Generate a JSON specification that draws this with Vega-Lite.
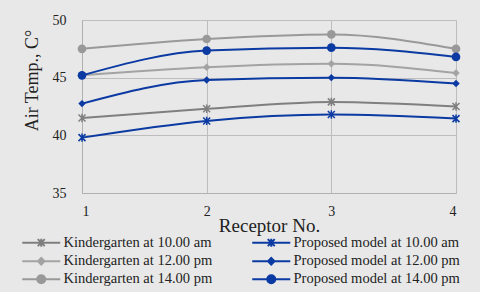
{
  "$schema": "https://vega.github.io/schema/vega-lite/v6.json",
  "width": 374,
  "height": 173,
  "autosize": {"type": "none"},
  "padding": {"left": 82, "top": 20, "right": 24, "bottom": 99},
  "background": "#e8e8e8",
  "config": {
    "font": "Liberation Serif",
    "view": {"stroke": null},
    "axis": {"labelFont": "Liberation Serif", "titleFont": "Liberation Serif", "labelColor": "#222", "titleColor": "#222", "titleFontWeight": "normal", "gridColor": "#bdbdbd", "domainColor": "#b0b0b0", "ticks": false}
  },
  "data": {"values": [
    {"receptor": 1, "series": "Kindergarten at 10.00 am", "temp": 41.5},
    {"receptor": 2, "series": "Kindergarten at 10.00 am", "temp": 42.3},
    {"receptor": 3, "series": "Kindergarten at 10.00 am", "temp": 42.9},
    {"receptor": 4, "series": "Kindergarten at 10.00 am", "temp": 42.5},
    {"receptor": 1, "series": "Proposed model at 10.00 am", "temp": 39.8},
    {"receptor": 2, "series": "Proposed model at 10.00 am", "temp": 41.25},
    {"receptor": 3, "series": "Proposed model at 10.00 am", "temp": 41.8},
    {"receptor": 4, "series": "Proposed model at 10.00 am", "temp": 41.45},
    {"receptor": 1, "series": "Kindergarten at 12.00 pm", "temp": 45.2},
    {"receptor": 2, "series": "Kindergarten at 12.00 pm", "temp": 45.9},
    {"receptor": 3, "series": "Kindergarten at 12.00 pm", "temp": 46.2},
    {"receptor": 4, "series": "Kindergarten at 12.00 pm", "temp": 45.4},
    {"receptor": 1, "series": "Proposed model at 12.00 pm", "temp": 42.75},
    {"receptor": 2, "series": "Proposed model at 12.00 pm", "temp": 44.8},
    {"receptor": 3, "series": "Proposed model at 12.00 pm", "temp": 45.0},
    {"receptor": 4, "series": "Proposed model at 12.00 pm", "temp": 44.5},
    {"receptor": 1, "series": "Kindergarten at 14.00 pm", "temp": 47.5},
    {"receptor": 2, "series": "Kindergarten at 14.00 pm", "temp": 48.35},
    {"receptor": 3, "series": "Kindergarten at 14.00 pm", "temp": 48.75},
    {"receptor": 4, "series": "Kindergarten at 14.00 pm", "temp": 47.5},
    {"receptor": 1, "series": "Proposed model at 14.00 pm", "temp": 45.2},
    {"receptor": 2, "series": "Proposed model at 14.00 pm", "temp": 47.35},
    {"receptor": 3, "series": "Proposed model at 14.00 pm", "temp": 47.6},
    {"receptor": 4, "series": "Proposed model at 14.00 pm", "temp": 46.8}
  ]},
  "encoding": {
    "x": {"field": "receptor", "type": "quantitative", "scale": {"domain": [1, 4], "nice": false}, "axis": {"values": [1, 2, 3, 4], "format": "d", "title": "Receptor No.", "labelFont": "Liberation Serif", "titleFont": "Liberation Serif", "labelFontSize": 14, "titleFontSize": 19, "labelPadding": 11, "titlePadding": -2}},
    "y": {"field": "temp", "type": "quantitative", "scale": {"domain": [35, 50], "nice": false, "zero": false}, "axis": {"values": [35, 40, 45, 50], "title": "Air Temp., C°", "labelFont": "Liberation Serif", "titleFont": "Liberation Serif", "labelFontSize": 14, "titleFontSize": 18, "labelPadding": 16, "titlePadding": 11, "titleY": 60}},
    "color": {"field": "series", "type": "nominal",
      "scale": {"domain": ["Kindergarten at 10.00 am", "Kindergarten at 12.00 pm", "Kindergarten at 14.00 pm", "Proposed model at 10.00 am", "Proposed model at 12.00 pm", "Proposed model at 14.00 pm"],
                "range": ["#7f7f7f", "#a3a3a3", "#999999", "#0b3aa3", "#0b3aa3", "#0b3aa3"]},
      "legend": {"title": null, "orient": "none", "legendX": -48, "legendY": 215, "columns": 2, "columnPadding": 35, "rowPadding": 2, "padding": 0,
        "symbolSize": 100, "symbolStrokeWidth": 2, "labelOffset": 15, "labelFontSize": 14.5, "labelFont": "Liberation Serif", "labelColor": "#222", "labelLimit": 300,
        "encode": {"symbols": {"update": {
          "shape": {"signal": "indexof(datum.value,'10.00')>=0 ? 'M-3.8,0H3.8M-0.7,-0.7L0.7,0.7M-0.7,0.7L0.7,-0.7M0,-0.8V0.8' : indexof(datum.value,'12.00')>=0 ? 'M-3.8,0H3.8M0,-0.65L0.65,0L0,0.65L-0.65,0Z' : 'M-3.8,0H3.8M0.8,0A0.8,0.8 0 1,1 -0.8,0A0.8,0.8 0 1,1 0.8,0Z'"},
          "fill": {"scale": "color", "field": "value"},
          "stroke": {"scale": "color", "field": "value"},
          "strokeWidth": {"value": 2},
          "opacity": {"value": 1}
        }}}}
    }
  },
  "layer": [
    {"mark": {"type": "line", "interpolate": "monotone", "strokeWidth": 2}},
    {"transform": [{"filter": "indexof(datum.series,'10.00')>=0"}],
     "mark": {"type": "point", "shape": "M-1,-1L1,1M-1,1L1,-1M0,-1.2V1.2", "filled": false, "size": 49, "strokeWidth": 1.5, "opacity": 1}},
    {"transform": [{"filter": "indexof(datum.series,'12.00')>=0"}],
     "mark": {"type": "point", "shape": "diamond", "filled": true, "size": 55, "opacity": 1}},
    {"transform": [{"filter": "indexof(datum.series,'14.00')>=0"}],
     "mark": {"type": "point", "shape": "circle", "filled": true, "size": 75, "opacity": 1}}
  ]
}
